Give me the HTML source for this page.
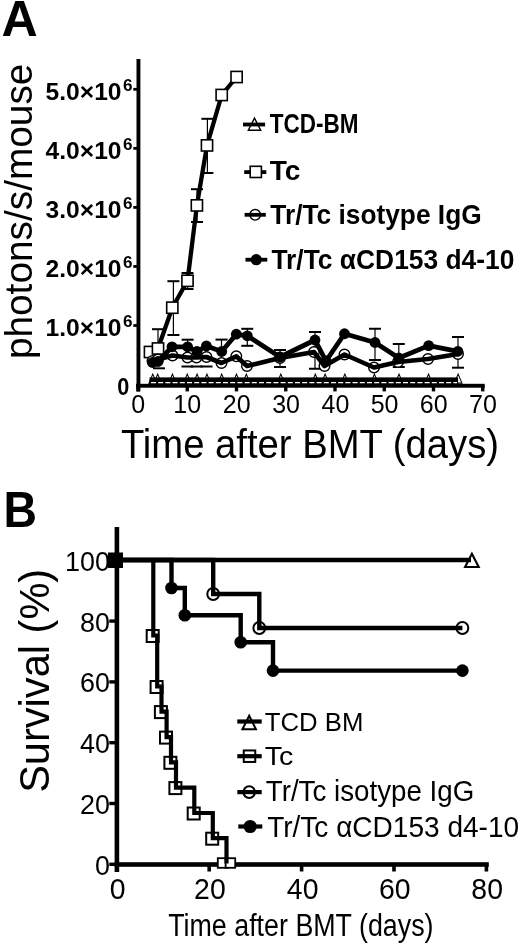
<!DOCTYPE html><html><head><meta charset="utf-8"><style>html,body{margin:0;padding:0;background:#fff;}svg{display:block;filter:grayscale(1);}text{font-family:"Liberation Sans",sans-serif;fill:#000;}</style></head><body>
<svg width="520" height="945" viewBox="0 0 520 945">
<rect width="520" height="945" fill="#fff"/>
<text x="1.45" y="36.30" font-size="49.90" font-weight="bold" textLength="36.22" lengthAdjust="spacingAndGlyphs">A</text>
<text transform="translate(32.00,359.12) rotate(-90)" x="0" y="0" font-size="38.00" textLength="295.50" lengthAdjust="spacingAndGlyphs">photons/s/mouse</text>
<rect x="136.5" y="59" width="3.9" height="332.5" fill="#000"/>
<rect x="136" y="383.8" width="348.7" height="3.9" fill="#000"/>
<rect x="133.3" y="324.10" width="4" height="2.8" fill="#000"/>
<text x="45.59" y="335.70" font-size="24.60" font-weight="bold" textLength="75.93" lengthAdjust="spacingAndGlyphs">1.0×10</text>
<text x="123.10" y="327.30" font-size="16.50" font-weight="bold" textLength="9.52" lengthAdjust="spacingAndGlyphs">6</text>
<rect x="133.3" y="265.05" width="4" height="2.8" fill="#000"/>
<text x="45.59" y="276.65" font-size="24.60" font-weight="bold" textLength="75.93" lengthAdjust="spacingAndGlyphs">2.0×10</text>
<text x="123.10" y="268.25" font-size="16.50" font-weight="bold" textLength="9.52" lengthAdjust="spacingAndGlyphs">6</text>
<rect x="133.3" y="206.00" width="4" height="2.8" fill="#000"/>
<text x="45.59" y="217.60" font-size="24.60" font-weight="bold" textLength="75.93" lengthAdjust="spacingAndGlyphs">3.0×10</text>
<text x="123.10" y="209.20" font-size="16.50" font-weight="bold" textLength="9.52" lengthAdjust="spacingAndGlyphs">6</text>
<rect x="133.3" y="146.95" width="4" height="2.8" fill="#000"/>
<text x="45.59" y="158.55" font-size="24.60" font-weight="bold" textLength="75.93" lengthAdjust="spacingAndGlyphs">4.0×10</text>
<text x="123.10" y="150.15" font-size="16.50" font-weight="bold" textLength="9.52" lengthAdjust="spacingAndGlyphs">6</text>
<rect x="133.3" y="87.90" width="4" height="2.8" fill="#000"/>
<text x="45.59" y="99.50" font-size="24.60" font-weight="bold" textLength="75.93" lengthAdjust="spacingAndGlyphs">5.0×10</text>
<text x="123.10" y="91.10" font-size="16.50" font-weight="bold" textLength="9.52" lengthAdjust="spacingAndGlyphs">6</text>
<text x="117.33" y="394.60" font-size="24.60" font-weight="bold" textLength="12.06" lengthAdjust="spacingAndGlyphs">0</text>
<rect x="136.30" y="385" width="3.4" height="6.4" fill="#000"/>
<text x="131.36" y="413.40" font-size="25.00" textLength="13.90" lengthAdjust="spacingAndGlyphs">0</text>
<rect x="185.55" y="385" width="3.4" height="6.4" fill="#000"/>
<text x="173.24" y="413.40" font-size="25.00" textLength="27.81" lengthAdjust="spacingAndGlyphs">10</text>
<rect x="234.80" y="385" width="3.4" height="6.4" fill="#000"/>
<text x="222.80" y="413.40" font-size="25.00" textLength="27.81" lengthAdjust="spacingAndGlyphs">20</text>
<rect x="284.05" y="385" width="3.4" height="6.4" fill="#000"/>
<text x="272.18" y="413.40" font-size="25.00" textLength="27.81" lengthAdjust="spacingAndGlyphs">30</text>
<rect x="333.30" y="385" width="3.4" height="6.4" fill="#000"/>
<text x="321.61" y="413.40" font-size="25.00" textLength="27.81" lengthAdjust="spacingAndGlyphs">40</text>
<rect x="382.55" y="385" width="3.4" height="6.4" fill="#000"/>
<text x="370.68" y="413.40" font-size="25.00" textLength="27.81" lengthAdjust="spacingAndGlyphs">50</text>
<rect x="431.80" y="385" width="3.4" height="6.4" fill="#000"/>
<text x="419.80" y="413.40" font-size="25.00" textLength="27.81" lengthAdjust="spacingAndGlyphs">60</text>
<rect x="481.05" y="385" width="3.4" height="6.4" fill="#000"/>
<text x="469.05" y="413.40" font-size="25.00" textLength="27.81" lengthAdjust="spacingAndGlyphs">70</text>
<text x="120.94" y="458.10" font-size="41.00" textLength="378.09" lengthAdjust="spacingAndGlyphs">Time after BMT (days)</text>
<path d="M254.50,118.10 L260.70,130.30 L248.30,130.30 Z" fill="#fff" stroke="#000" stroke-width="1.4" stroke-linejoin="miter"/>
<line x1="243" y1="124.5" x2="265.1" y2="124.5" stroke="#000" stroke-width="3.8"/>
<text x="269.78" y="133.40" font-size="27.00" font-weight="bold" textLength="88.67" lengthAdjust="spacingAndGlyphs">TCD-BM</text>
<line x1="244.2" y1="172.1" x2="266.3" y2="172.1" stroke="#000" stroke-width="3.8"/>
<rect x="250.20" y="166.30" width="11.2" height="11.2" fill="#fff" stroke="#000" stroke-width="1.6"/>
<text x="269.72" y="179.80" font-size="27.00" font-weight="bold" textLength="30.70" lengthAdjust="spacingAndGlyphs">Tc</text>
<circle cx="255.20" cy="214.80" r="5.3" fill="#fff" stroke="#000" stroke-width="1.4"/>
<line x1="244.6" y1="214.8" x2="265.8" y2="214.8" stroke="#000" stroke-width="3.8"/>
<text x="270.34" y="223.60" font-size="27.00" font-weight="bold" textLength="211.34" lengthAdjust="spacingAndGlyphs">Tr/Tc isotype IgG</text>
<line x1="245.5" y1="259.7" x2="267.3" y2="259.7" stroke="#000" stroke-width="3.8"/>
<circle cx="256.30" cy="259.70" r="5.6" fill="#000" stroke="#000" stroke-width="0"/>
<text x="271.44" y="268.70" font-size="27.00" font-weight="bold" textLength="242.95" lengthAdjust="spacingAndGlyphs">Tr/Tc αCD153 d4-10</text>
<line x1="158" y1="329.2" x2="158" y2="350" stroke="#000" stroke-width="1.2"/>
<line x1="152" y1="329.2" x2="164" y2="329.2" stroke="#000" stroke-width="2"/>
<line x1="173.4" y1="281.2" x2="173.4" y2="335" stroke="#000" stroke-width="1.2"/>
<line x1="167.4" y1="281.2" x2="179.4" y2="281.2" stroke="#000" stroke-width="2"/>
<line x1="167.4" y1="335" x2="179.4" y2="335" stroke="#000" stroke-width="2"/>
<line x1="187.5" y1="273" x2="187.5" y2="289" stroke="#000" stroke-width="1.2"/>
<line x1="181.5" y1="273" x2="193.5" y2="273" stroke="#000" stroke-width="2"/>
<line x1="181.5" y1="289" x2="193.5" y2="289" stroke="#000" stroke-width="2"/>
<line x1="197" y1="189.2" x2="197" y2="222" stroke="#000" stroke-width="1.2"/>
<line x1="191" y1="189.2" x2="203" y2="189.2" stroke="#000" stroke-width="2"/>
<line x1="191" y1="222" x2="203" y2="222" stroke="#000" stroke-width="2"/>
<line x1="207.4" y1="118.8" x2="207.4" y2="173" stroke="#000" stroke-width="1.2"/>
<line x1="201.4" y1="118.8" x2="213.4" y2="118.8" stroke="#000" stroke-width="2"/>
<line x1="201.4" y1="173" x2="213.4" y2="173" stroke="#000" stroke-width="2"/>
<line x1="187.6" y1="339.7" x2="187.6" y2="350" stroke="#000" stroke-width="1.2"/>
<line x1="181.6" y1="339.7" x2="193.6" y2="339.7" stroke="#000" stroke-width="2"/>
<line x1="221.5" y1="339.6" x2="221.5" y2="350" stroke="#000" stroke-width="1.2"/>
<line x1="215.5" y1="339.6" x2="227.5" y2="339.6" stroke="#000" stroke-width="2"/>
<line x1="247.3" y1="328.8" x2="247.3" y2="345.8" stroke="#000" stroke-width="1.2"/>
<line x1="241.3" y1="328.8" x2="253.3" y2="328.8" stroke="#000" stroke-width="2"/>
<line x1="241.3" y1="345.8" x2="253.3" y2="345.8" stroke="#000" stroke-width="2"/>
<line x1="280" y1="350" x2="280" y2="367" stroke="#000" stroke-width="1.2"/>
<line x1="274" y1="350" x2="286" y2="350" stroke="#000" stroke-width="2"/>
<line x1="274" y1="367" x2="286" y2="367" stroke="#000" stroke-width="2"/>
<line x1="315" y1="332" x2="315" y2="368.75" stroke="#000" stroke-width="1.2"/>
<line x1="309" y1="332" x2="321" y2="332" stroke="#000" stroke-width="2"/>
<line x1="309" y1="368.75" x2="321" y2="368.75" stroke="#000" stroke-width="2"/>
<line x1="375" y1="328.75" x2="375" y2="360" stroke="#000" stroke-width="1.2"/>
<line x1="369" y1="328.75" x2="381" y2="328.75" stroke="#000" stroke-width="2"/>
<line x1="369" y1="360" x2="381" y2="360" stroke="#000" stroke-width="2"/>
<line x1="398.8" y1="344" x2="398.8" y2="367" stroke="#000" stroke-width="1.2"/>
<line x1="392.8" y1="344" x2="404.8" y2="344" stroke="#000" stroke-width="2"/>
<line x1="392.8" y1="367" x2="404.8" y2="367" stroke="#000" stroke-width="2"/>
<line x1="458" y1="337" x2="458" y2="367.7" stroke="#000" stroke-width="1.2"/>
<line x1="452" y1="337" x2="464" y2="337" stroke="#000" stroke-width="2"/>
<line x1="452" y1="367.7" x2="464" y2="367.7" stroke="#000" stroke-width="2"/>
<line x1="153" y1="368.3" x2="165" y2="368.3" stroke="#000" stroke-width="2"/>
<line x1="181.5" y1="366.5" x2="193.5" y2="366.5" stroke="#000" stroke-width="2"/>
<line x1="190.5" y1="366.5" x2="202.5" y2="366.5" stroke="#000" stroke-width="2"/>
<line x1="200.5" y1="366.5" x2="212.5" y2="366.5" stroke="#000" stroke-width="2"/>
<path d="M152.78,374.10 L156.58,383.10 L148.97,383.10 Z" fill="#fff" stroke="#000" stroke-width="1.1" stroke-linejoin="miter"/>
<path d="M157.70,374.10 L161.50,383.10 L153.90,383.10 Z" fill="#fff" stroke="#000" stroke-width="1.1" stroke-linejoin="miter"/>
<path d="M172.47,374.10 L176.28,383.10 L168.67,383.10 Z" fill="#fff" stroke="#000" stroke-width="1.1" stroke-linejoin="miter"/>
<path d="M187.25,374.10 L191.05,383.10 L183.45,383.10 Z" fill="#fff" stroke="#000" stroke-width="1.1" stroke-linejoin="miter"/>
<path d="M197.10,374.10 L200.90,383.10 L193.30,383.10 Z" fill="#fff" stroke="#000" stroke-width="1.1" stroke-linejoin="miter"/>
<path d="M206.95,374.10 L210.75,383.10 L203.15,383.10 Z" fill="#fff" stroke="#000" stroke-width="1.1" stroke-linejoin="miter"/>
<path d="M221.72,374.10 L225.53,383.10 L217.92,383.10 Z" fill="#fff" stroke="#000" stroke-width="1.1" stroke-linejoin="miter"/>
<path d="M236.50,374.10 L240.30,383.10 L232.70,383.10 Z" fill="#fff" stroke="#000" stroke-width="1.1" stroke-linejoin="miter"/>
<path d="M246.35,374.10 L250.15,383.10 L242.55,383.10 Z" fill="#fff" stroke="#000" stroke-width="1.1" stroke-linejoin="miter"/>
<path d="M280.82,374.10 L284.62,383.10 L277.02,383.10 Z" fill="#fff" stroke="#000" stroke-width="1.1" stroke-linejoin="miter"/>
<path d="M315.30,374.10 L319.10,383.10 L311.50,383.10 Z" fill="#fff" stroke="#000" stroke-width="1.1" stroke-linejoin="miter"/>
<path d="M325.15,374.10 L328.95,383.10 L321.35,383.10 Z" fill="#fff" stroke="#000" stroke-width="1.1" stroke-linejoin="miter"/>
<path d="M344.85,374.10 L348.65,383.10 L341.05,383.10 Z" fill="#fff" stroke="#000" stroke-width="1.1" stroke-linejoin="miter"/>
<path d="M374.40,374.10 L378.20,383.10 L370.60,383.10 Z" fill="#fff" stroke="#000" stroke-width="1.1" stroke-linejoin="miter"/>
<path d="M399.02,374.10 L402.82,383.10 L395.22,383.10 Z" fill="#fff" stroke="#000" stroke-width="1.1" stroke-linejoin="miter"/>
<path d="M428.57,374.10 L432.38,383.10 L424.77,383.10 Z" fill="#fff" stroke="#000" stroke-width="1.1" stroke-linejoin="miter"/>
<path d="M458.12,374.10 L461.93,383.10 L454.32,383.10 Z" fill="#fff" stroke="#000" stroke-width="1.1" stroke-linejoin="miter"/>
<rect x="149.5" y="377.4" width="308.6" height="6.6" fill="#000"/>
<line x1="151" y1="382.6" x2="457.1" y2="382.6" stroke="#fff" stroke-width="1.1" stroke-dasharray="5 2.2"/>
<polyline points="150,352 158,348.5 172.3,307.7 187.5,280.8 196.9,205.4 207,145.4 221.7,95 236.6,77" fill="none" stroke="#000" stroke-width="4.3" stroke-linejoin="round" stroke-linecap="round"/>
<rect x="144.40" y="346.40" width="11.2" height="11.2" fill="#fff" stroke="#000" stroke-width="1.6"/>
<rect x="152.40" y="342.90" width="11.2" height="11.2" fill="#fff" stroke="#000" stroke-width="1.6"/>
<rect x="166.70" y="302.10" width="11.2" height="11.2" fill="#fff" stroke="#000" stroke-width="1.6"/>
<rect x="181.90" y="275.20" width="11.2" height="11.2" fill="#fff" stroke="#000" stroke-width="1.6"/>
<rect x="191.30" y="199.80" width="11.2" height="11.2" fill="#fff" stroke="#000" stroke-width="1.6"/>
<rect x="201.40" y="139.80" width="11.2" height="11.2" fill="#fff" stroke="#000" stroke-width="1.6"/>
<rect x="216.10" y="89.40" width="11.2" height="11.2" fill="#fff" stroke="#000" stroke-width="1.6"/>
<rect x="231.00" y="71.40" width="11.2" height="11.2" fill="#fff" stroke="#000" stroke-width="1.6"/>
<circle cx="152.50" cy="361.00" r="5.3" fill="#fff" stroke="#000" stroke-width="1.4"/>
<circle cx="158.00" cy="359.50" r="5.3" fill="#fff" stroke="#000" stroke-width="1.4"/>
<circle cx="172.50" cy="355.50" r="5.3" fill="#fff" stroke="#000" stroke-width="1.4"/>
<circle cx="187.50" cy="357.50" r="5.3" fill="#fff" stroke="#000" stroke-width="1.4"/>
<circle cx="196.50" cy="357.50" r="5.3" fill="#fff" stroke="#000" stroke-width="1.4"/>
<circle cx="206.50" cy="357.00" r="5.3" fill="#fff" stroke="#000" stroke-width="1.4"/>
<circle cx="221.50" cy="363.00" r="5.3" fill="#fff" stroke="#000" stroke-width="1.4"/>
<circle cx="236.30" cy="356.30" r="5.3" fill="#fff" stroke="#000" stroke-width="1.4"/>
<circle cx="247.00" cy="366.00" r="5.3" fill="#fff" stroke="#000" stroke-width="1.4"/>
<circle cx="280.00" cy="358.00" r="5.3" fill="#fff" stroke="#000" stroke-width="1.4"/>
<circle cx="314.00" cy="352.00" r="5.3" fill="#fff" stroke="#000" stroke-width="1.4"/>
<circle cx="324.50" cy="366.00" r="5.3" fill="#fff" stroke="#000" stroke-width="1.4"/>
<circle cx="344.50" cy="354.50" r="5.3" fill="#fff" stroke="#000" stroke-width="1.4"/>
<circle cx="374.00" cy="367.50" r="5.3" fill="#fff" stroke="#000" stroke-width="1.4"/>
<circle cx="398.00" cy="362.00" r="5.3" fill="#fff" stroke="#000" stroke-width="1.4"/>
<circle cx="428.00" cy="359.00" r="5.3" fill="#fff" stroke="#000" stroke-width="1.4"/>
<circle cx="458.00" cy="354.00" r="5.3" fill="#fff" stroke="#000" stroke-width="1.4"/>
<polyline points="152.5,361 158,359.5 172.5,355.5 187.5,357.5 196.5,357.5 206.5,357 221.5,363 236.3,356.3 247,366 280,358 314,352 324.5,366 344.5,354.5 374,367.5 398,362 428,359 458,354" fill="none" stroke="#000" stroke-width="4.6" stroke-linejoin="round" stroke-linecap="round"/>
<polyline points="152.5,362.5 158,361.5 172,346.8 187.6,346.8 197,351.5 206.4,346 221.7,351.5 236.3,334.2 247.3,335.8 280,357 315,340 326,361 344.5,333.75 375,342.5 398.8,358 428.7,345.6 457.9,351.3" fill="none" stroke="#000" stroke-width="4.8" stroke-linejoin="round" stroke-linecap="round"/>
<circle cx="152.50" cy="362.50" r="5.4" fill="#000" stroke="#000" stroke-width="0"/>
<circle cx="158.00" cy="361.50" r="5.4" fill="#000" stroke="#000" stroke-width="0"/>
<circle cx="172.00" cy="346.80" r="5.4" fill="#000" stroke="#000" stroke-width="0"/>
<circle cx="187.60" cy="346.80" r="5.4" fill="#000" stroke="#000" stroke-width="0"/>
<circle cx="197.00" cy="351.50" r="5.4" fill="#000" stroke="#000" stroke-width="0"/>
<circle cx="206.40" cy="346.00" r="5.4" fill="#000" stroke="#000" stroke-width="0"/>
<circle cx="221.70" cy="351.50" r="5.4" fill="#000" stroke="#000" stroke-width="0"/>
<circle cx="236.30" cy="334.20" r="5.4" fill="#000" stroke="#000" stroke-width="0"/>
<circle cx="247.30" cy="335.80" r="5.4" fill="#000" stroke="#000" stroke-width="0"/>
<circle cx="280.00" cy="357.00" r="5.4" fill="#000" stroke="#000" stroke-width="0"/>
<circle cx="315.00" cy="340.00" r="5.4" fill="#000" stroke="#000" stroke-width="0"/>
<circle cx="326.00" cy="361.00" r="5.4" fill="#000" stroke="#000" stroke-width="0"/>
<circle cx="344.50" cy="333.75" r="5.4" fill="#000" stroke="#000" stroke-width="0"/>
<circle cx="375.00" cy="342.50" r="5.4" fill="#000" stroke="#000" stroke-width="0"/>
<circle cx="398.80" cy="358.00" r="5.4" fill="#000" stroke="#000" stroke-width="0"/>
<circle cx="428.70" cy="345.60" r="5.4" fill="#000" stroke="#000" stroke-width="0"/>
<circle cx="457.90" cy="351.30" r="5.4" fill="#000" stroke="#000" stroke-width="0"/>
<text x="3.48" y="526.50" font-size="49.70" font-weight="bold" textLength="33.50" lengthAdjust="spacingAndGlyphs">B</text>
<text transform="translate(49.20,792.87) rotate(-90)" x="0" y="0" font-size="42.50" textLength="224.07" lengthAdjust="spacingAndGlyphs">Survival (%)</text>
<rect x="114.6" y="527" width="4.6" height="345" fill="#000"/>
<rect x="114.6" y="862.2" width="374.2" height="4.6" fill="#000"/>
<rect x="109.3" y="862.60" width="6" height="3.4" fill="#000"/>
<text x="94.95" y="874.70" font-size="28.30" textLength="14.95" lengthAdjust="spacingAndGlyphs">0</text>
<rect x="109.3" y="801.80" width="6" height="3.4" fill="#000"/>
<text x="80.03" y="813.90" font-size="28.30" textLength="29.91" lengthAdjust="spacingAndGlyphs">20</text>
<rect x="109.3" y="741.00" width="6" height="3.4" fill="#000"/>
<text x="80.03" y="753.10" font-size="28.30" textLength="29.91" lengthAdjust="spacingAndGlyphs">40</text>
<rect x="109.3" y="680.20" width="6" height="3.4" fill="#000"/>
<text x="80.03" y="692.30" font-size="28.30" textLength="29.91" lengthAdjust="spacingAndGlyphs">60</text>
<rect x="109.3" y="619.40" width="6" height="3.4" fill="#000"/>
<text x="80.03" y="631.50" font-size="28.30" textLength="29.91" lengthAdjust="spacingAndGlyphs">80</text>
<rect x="109.3" y="558.60" width="6" height="3.4" fill="#000"/>
<text x="65.11" y="570.70" font-size="28.30" textLength="44.86" lengthAdjust="spacingAndGlyphs">100</text>
<rect x="115.00" y="864" width="3.6" height="7.5" fill="#000"/>
<text x="109.71" y="898.60" font-size="29.30" textLength="15.81" lengthAdjust="spacingAndGlyphs">0</text>
<rect x="207.40" y="864" width="3.6" height="7.5" fill="#000"/>
<text x="194.08" y="898.60" font-size="29.30" textLength="31.61" lengthAdjust="spacingAndGlyphs">20</text>
<rect x="299.80" y="864" width="3.6" height="7.5" fill="#000"/>
<text x="286.84" y="898.60" font-size="29.30" textLength="31.61" lengthAdjust="spacingAndGlyphs">40</text>
<rect x="392.20" y="864" width="3.6" height="7.5" fill="#000"/>
<text x="378.88" y="898.60" font-size="29.30" textLength="31.61" lengthAdjust="spacingAndGlyphs">60</text>
<rect x="484.60" y="864" width="3.6" height="7.5" fill="#000"/>
<text x="471.36" y="898.60" font-size="29.30" textLength="31.61" lengthAdjust="spacingAndGlyphs">80</text>
<text x="168.16" y="936.30" font-size="30.60" textLength="265.37" lengthAdjust="spacingAndGlyphs">Time after BMT (days)</text>
<path d="M249.20,715.80 L255.95,729.20 L242.45,729.20 Z" fill="#fff" stroke="#000" stroke-width="2" stroke-linejoin="miter"/>
<line x1="237.3" y1="721.5" x2="261.7" y2="721.5" stroke="#000" stroke-width="4.2"/>
<text x="264.69" y="730.80" font-size="26.20" textLength="98.65" lengthAdjust="spacingAndGlyphs">TCD BM</text>
<rect x="243.75" y="750.45" width="11.5" height="11.5" fill="#fff" stroke="#000" stroke-width="2"/>
<line x1="237.3" y1="756.2" x2="261.7" y2="756.2" stroke="#000" stroke-width="4.2"/>
<text x="264.83" y="764.60" font-size="25.80" textLength="28.59" lengthAdjust="spacingAndGlyphs">Tc</text>
<circle cx="249.20" cy="792.10" r="5.8" fill="#fff" stroke="#000" stroke-width="2"/>
<line x1="237.3" y1="792.1" x2="261.7" y2="792.1" stroke="#000" stroke-width="4.2"/>
<text x="265.75" y="801.30" font-size="30.00" textLength="208.51" lengthAdjust="spacingAndGlyphs">Tr/Tc isotype IgG</text>
<circle cx="250.20" cy="826.50" r="6.6" fill="#000" stroke="#000" stroke-width="0"/>
<line x1="238.3" y1="826.5" x2="262.3" y2="826.5" stroke="#000" stroke-width="4.2"/>
<text x="267.14" y="837.20" font-size="30.30" textLength="251.95" lengthAdjust="spacingAndGlyphs">Tr/Tc αCD153 d4-10</text>
<rect x="146.70" y="630.00" width="12" height="12" fill="#fff" stroke="#000" stroke-width="2"/>
<rect x="150.60" y="681.00" width="12" height="12" fill="#fff" stroke="#000" stroke-width="2"/>
<rect x="154.90" y="706.10" width="12" height="12" fill="#fff" stroke="#000" stroke-width="2"/>
<rect x="160.00" y="731.60" width="12" height="12" fill="#fff" stroke="#000" stroke-width="2"/>
<rect x="164.40" y="756.80" width="12" height="12" fill="#fff" stroke="#000" stroke-width="2"/>
<rect x="169.40" y="782.10" width="12" height="12" fill="#fff" stroke="#000" stroke-width="2"/>
<rect x="187.70" y="807.50" width="12" height="12" fill="#fff" stroke="#000" stroke-width="2"/>
<rect x="206.20" y="832.70" width="12" height="12" fill="#fff" stroke="#000" stroke-width="2"/>
<rect x="217.80" y="858.20" width="9.6" height="9.6" fill="#fff" stroke="#000" stroke-width="1.8"/>
<rect x="225.60" y="858.20" width="9.6" height="9.6" fill="#fff" stroke="#000" stroke-width="1.8"/>
<circle cx="213.20" cy="594.00" r="5.9" fill="#fff" stroke="#000" stroke-width="2"/>
<circle cx="259.30" cy="628.00" r="5.9" fill="#fff" stroke="#000" stroke-width="2"/>
<circle cx="462.40" cy="628.00" r="5.9" fill="#fff" stroke="#000" stroke-width="2"/>
<circle cx="171.50" cy="588.00" r="6.3" fill="#000" stroke="#000" stroke-width="0"/>
<circle cx="184.80" cy="615.20" r="6.3" fill="#000" stroke="#000" stroke-width="0"/>
<circle cx="240.70" cy="642.30" r="6.3" fill="#000" stroke="#000" stroke-width="0"/>
<circle cx="273.00" cy="670.60" r="6.3" fill="#000" stroke="#000" stroke-width="0"/>
<circle cx="462.40" cy="670.60" r="6.3" fill="#000" stroke="#000" stroke-width="0"/>
<path d="M471.90,553.80 L478.70,567.00 L465.10,567.00 Z" fill="#fff" stroke="#000" stroke-width="2.1" stroke-linejoin="miter"/>
<rect x="108" y="552.5" width="15" height="15.5" fill="#000"/>
<line x1="116.8" y1="560" x2="471" y2="560" stroke="#000" stroke-width="4.5"/>
<path d="M116.8,560 H213.2 V594 H259.3 V628 H462.4 V628" fill="none" stroke="#000" stroke-width="4.4"/>
<path d="M116.8,560 H171.5 V588 H184.8 V615.2 H240.7 V642.3 H273 V670.6 H462.4 V670.6" fill="none" stroke="#000" stroke-width="4.4"/>
<path d="M116.8,560 H153.3 V635.5 H157.2 V686.5 H161.5 V711.6 H166.6 V737.1 H171 V762.3 H176 V787.6 H194.3 V813 H212.8 V838.2 H226.5 V863.5" fill="none" stroke="#000" stroke-width="4.2"/>
</svg></body></html>
